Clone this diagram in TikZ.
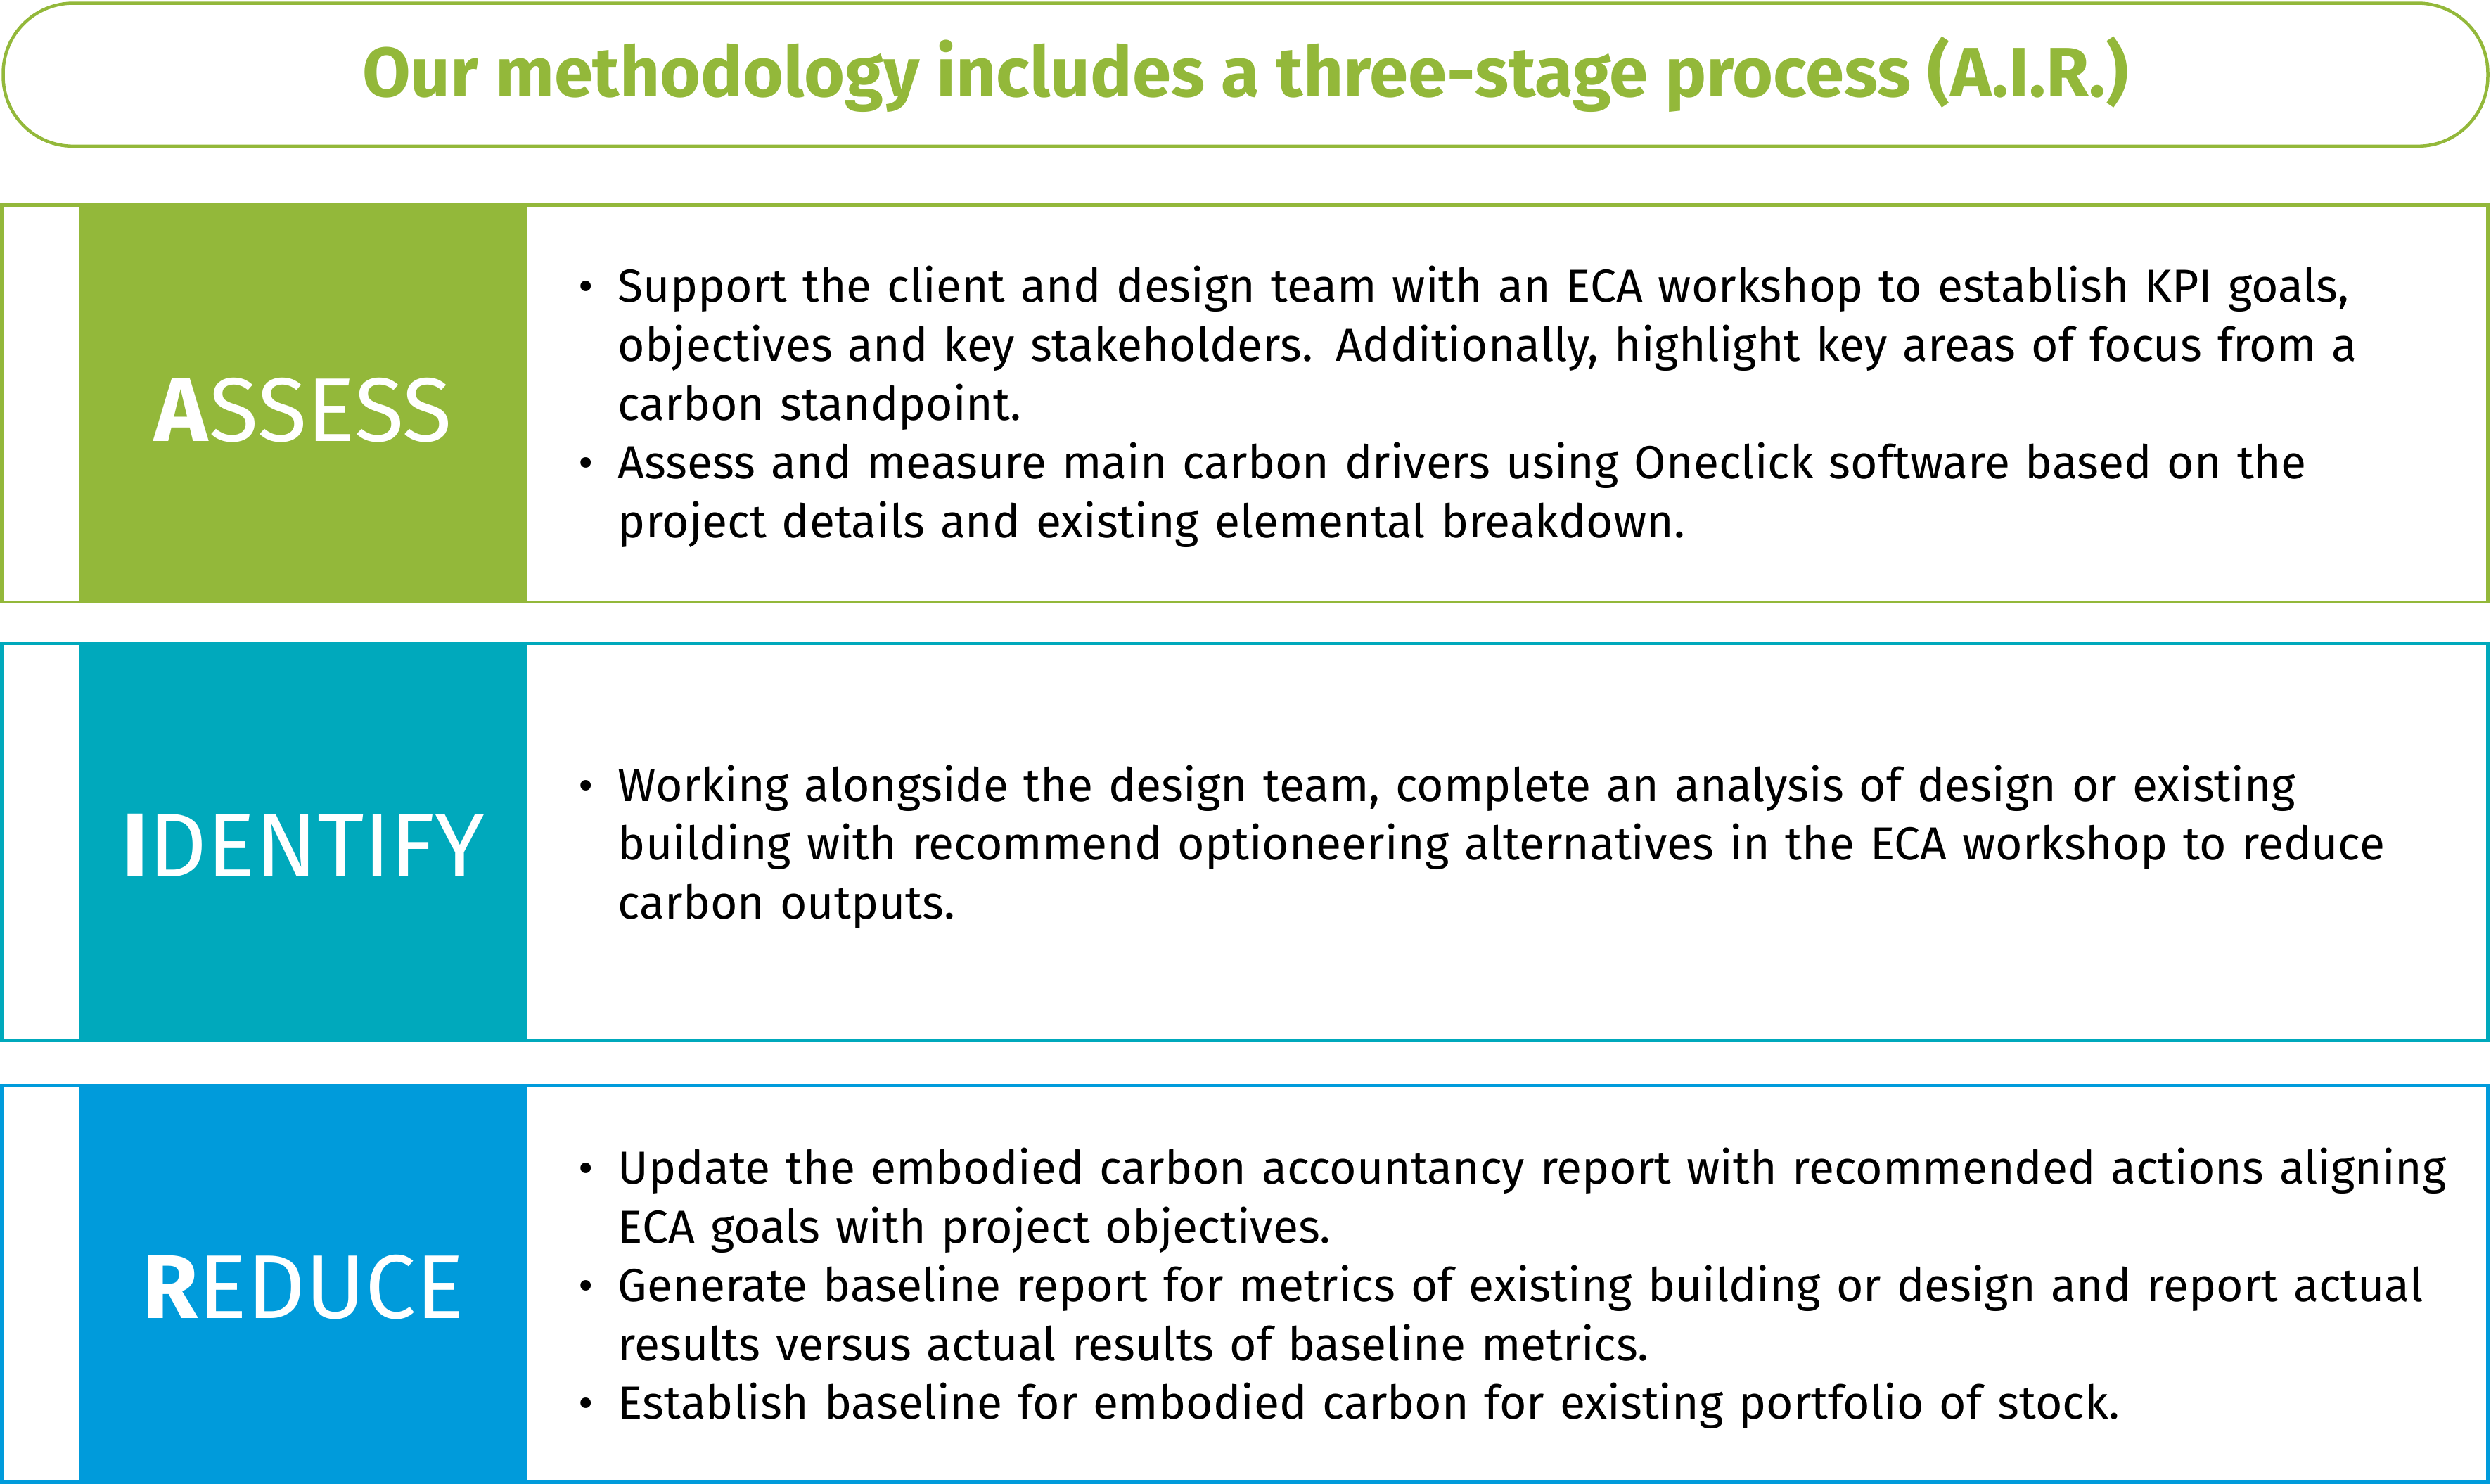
\documentclass[tikz,border=0pt]{standalone}
\usepackage{fontspec}
\setmainfont{Fira Sans}
\definecolor{airgreen}{HTML}{93B83A}
\definecolor{airteal}{HTML}{00A9BC}
\definecolor{airblue}{HTML}{009BDB}
\newcommand{\bul}[1]{\hangindent=12.5pt\hangafter=1\noindent\makebox[12.5pt][l]{\textbullet}#1\par}
\begin{document}
\begin{tikzpicture}[x=0.5pt,y=-0.5pt,
stage/.style={%
draw,
line width=1pt,
},
tag/.style={%
text=white,
font=\fontsize{28.5}{32}\selectfont,
},
items/.style={%
anchor=west,
align=left,
text width=620pt,
font=\fontsize{14.6}{18.5}\selectfont,
},
]
\useasboundingbox (0,0) rectangle (1568,934);
%% Title
\draw[airgreen,line width=1pt,rounded corners=22pt] (2,2) rectangle (1566,92);
\node[text=airgreen,font=\fontsize{22}{26}\selectfont\bfseries] (title) at (784,47)
{Our methodology includes a three-stage process (A.I.R.)};
%% Assess
\draw[stage,airgreen] (1,129) rectangle (1566,379);
\fill[airgreen] (50,129) rectangle (332,379);
\node[tag] (assess) at (191,258) {\textbf{A}SSESS};
\node[items] (assesstext) at (357,256) {%
\bul{Support the client and design team with an ECA workshop to establish KPI goals,\newline objectives and key stakeholders. Additionally, highlight key areas of focus from a\newline carbon standpoint.}
\bul{Assess and measure main carbon drivers using Oneclick software based on the\newline project details and existing elemental breakdown.}};
%% Identify
\draw[stage,airteal] (1,405) rectangle (1566,655);
\fill[airteal] (50,405) rectangle (332,655);
\node[tag] (identify) at (191,532) {\textbf{I}DENTIFY};
\node[items] (identifytext) at (357,533) {%
\bul{Working alongside the design team, complete an analysis of design or existing\newline building with recommend optioneering alternatives in the ECA workshop to reduce\newline carbon outputs.}};
%% Reduce
\draw[stage,airblue] (1,683) rectangle (1566,933);
\fill[airblue] (50,683) rectangle (332,933);
\node[tag] (reduce) at (191,810) {\textbf{R}EDUCE};
\node[items] (reducetext) at (357,811) {%
\bul{Update the embodied carbon accountancy report with recommended actions aligning\newline ECA goals with project objectives.}
\bul{Generate baseline report for metrics of existing building or design and report actual\newline results versus actual results of baseline metrics.}
\bul{Establish baseline for embodied carbon for existing portfolio of stock.}};
\end{tikzpicture}
\end{document}
